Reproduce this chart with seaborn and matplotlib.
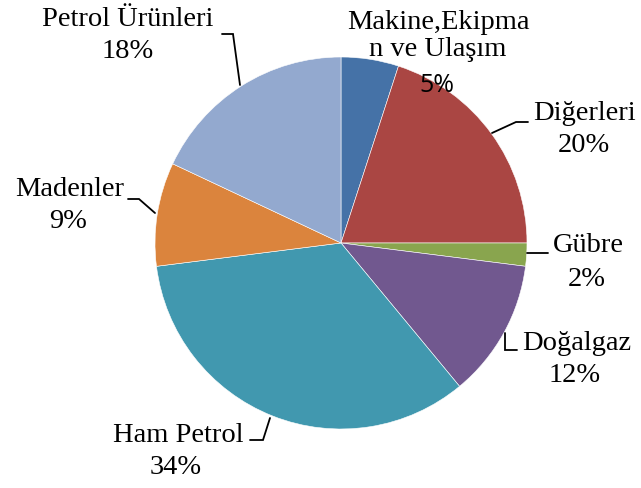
import matplotlib
matplotlib.use("Agg")
import matplotlib.pyplot as plt
import seaborn as sns

# data (clockwise from 12 o'clock)
categories = ["Makine,Ekipma\nn ve Ulaşım", "Diğerleri", "Gübre", "Doğalgaz",
              "Ham Petrol", "Madenler", "Petrol Ürünleri"]
shares = [5, 20, 2, 12, 34, 9, 18]
slice_colors = ["#4572A7", "#AA4643", "#89A54E", "#71588F",
                "#4198AF", "#DB843D", "#93A9CF"]

sns.set_theme(style="white")
plt.rcParams["font.family"] = ["Liberation Serif", "DejaVu Serif"]

W, H = 641, 488
CX, CY, R = 341, 243, 186


def to_data(px, py):
    return (px - CX) / R, (CY - py) / R


fig = plt.figure(figsize=(W / 100, H / 100), dpi=100)
ax = fig.add_axes([0, 0, 1, 1])
ax.pie(shares, colors=sns.color_palette(slice_colors), startangle=90,
       counterclock=False, radius=1,
       wedgeprops=dict(edgecolor="white", linewidth=0.4))
ax.set_xlim(to_data(0, 0)[0], to_data(W, 0)[0])
ax.set_ylim(to_data(0, H)[1], to_data(0, 0)[1])
ax.set_aspect("equal")
ax.axis("off")

# label layout in pixels: (name centre, pct centre, leader polyline)
layout = [
    ((438, 36), (437, 86), None),
    ((584, 113), (584, 145), [(492, 133), (516, 122), (528, 122)]),
    ((588, 245), (587, 280), [(527, 253), (548, 253)]),
    ((577, 344), (575, 376), [(505, 333), (505, 350), (517, 350)]),
    ((178, 435), (176, 467), [(270, 418), (263, 440), (250, 440)]),
    ((70, 190), (68, 222), [(155, 213), (139, 199), (128, 199)]),
    ((128, 20), (128, 52), [(240, 85), (233, 34), (222, 34)]),
]

for name, pct, (name_xy, pct_xy, leader) in zip(categories, shares, layout):
    x, y = to_data(*name_xy)
    ax.text(x, y, name, ha="center", va="center", fontsize=20.5,
            linespacing=1.1, color="black")
    x, y = to_data(*pct_xy)
    is_makine = name.startswith("Makine")
    ax.text(x, y, f"{pct}%", ha="center", va="center",
            fontsize=18 if is_makine else 20.5,
            family=["Open Sans"] if is_makine else ["Liberation Serif"],
            color="black")
    if leader:
        pts = [to_data(px, py) for px, py in leader]
        ax.plot([p[0] for p in pts], [p[1] for p in pts], color="black",
                linewidth=1.3, solid_joinstyle="miter")

fig.savefig("out.png", dpi=100)
plt.close(fig)
